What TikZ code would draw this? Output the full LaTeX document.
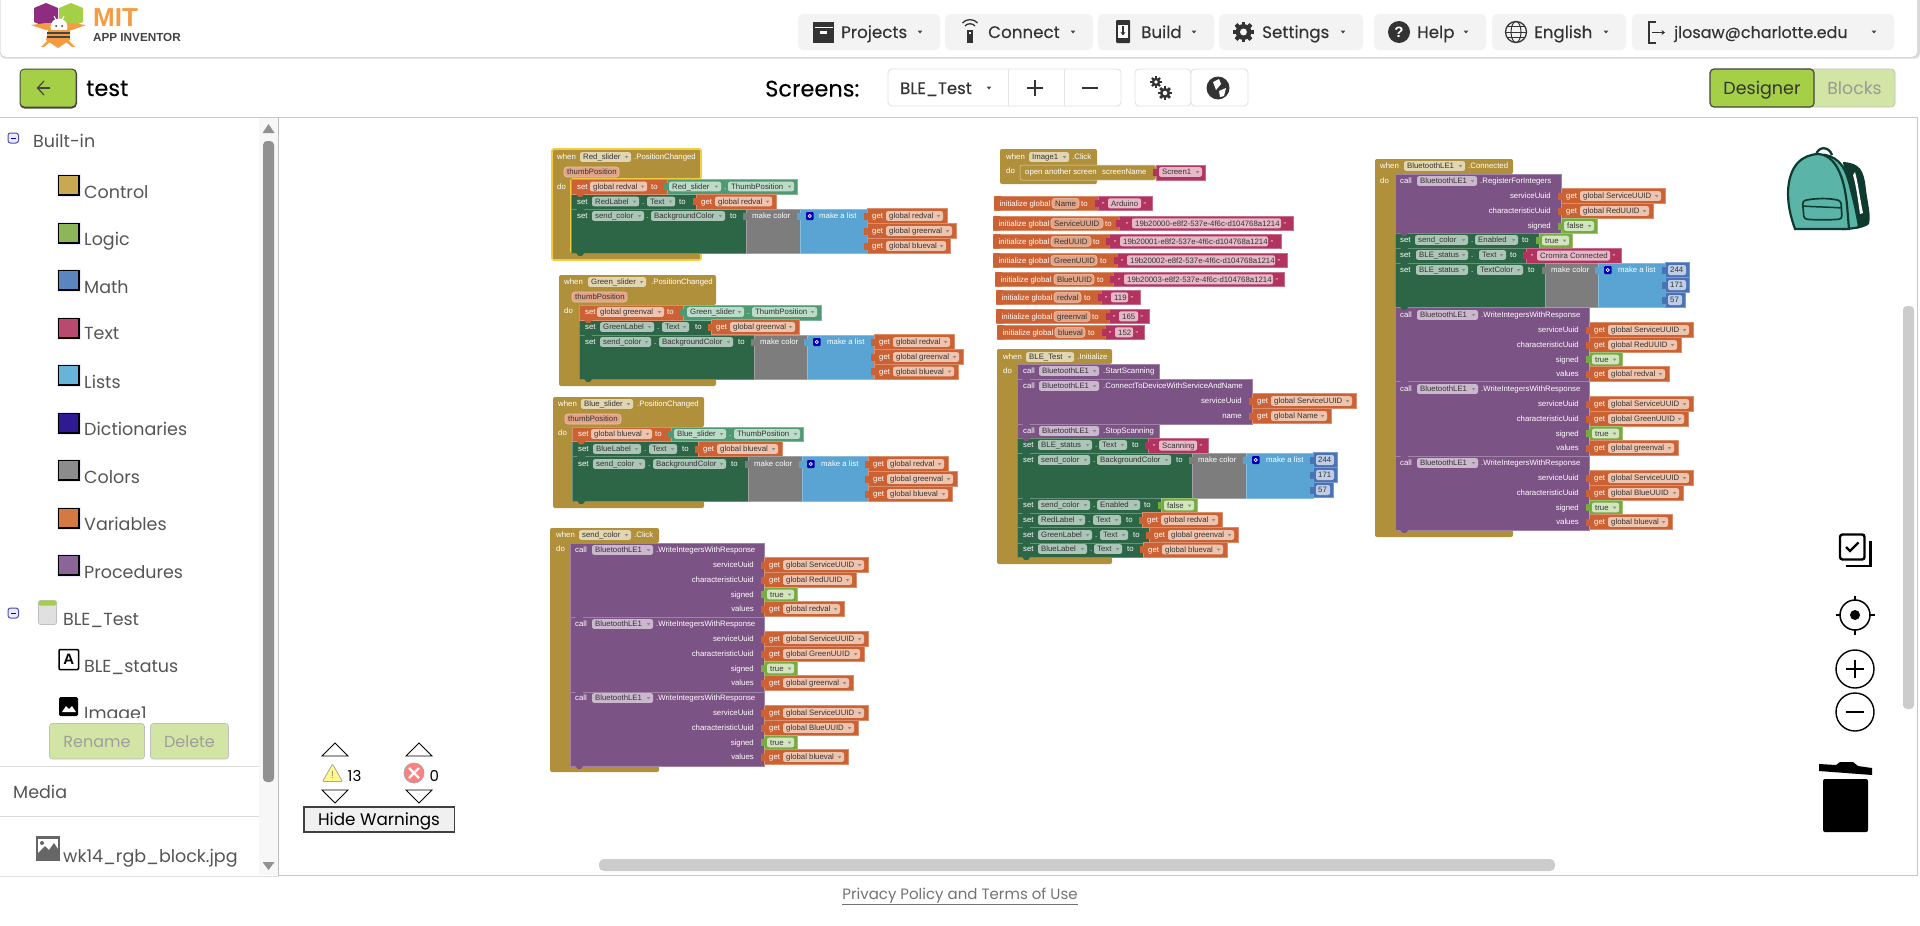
\documentclass[tikz,border=0pt]{standalone}
\usepackage{fontspec}
\usetikzlibrary{arrows.meta}
\setmainfont{Liberation Sans}
\newfontfamily\pop{Poppins}
\newfontfamily\popm[FakeBold=0.2]{Poppins}
\definecolor{cC}{HTML}{B0903A}
\definecolor{cP}{HTML}{7C5385}
\definecolor{cV}{HTML}{CC6233}
\definecolor{cS}{HTML}{2D6646}
\definecolor{cG}{HTML}{4F9A72}
\definecolor{cK}{HTML}{7D7D7D}
\definecolor{cL}{HTML}{59A4D2}
\definecolor{cT}{HTML}{B2335F}
\definecolor{cM}{HTML}{4A73B5}
\definecolor{cB}{HTML}{77AB41}
\definecolor{fO}{HTML}{EFC4AE}
\definecolor{fS}{HTML}{ABC6B7}
\definecolor{fG}{HTML}{BCDBC9}
\definecolor{fP}{HTML}{CBB8CF}
\definecolor{fH}{HTML}{E2D6B2}
\definecolor{fT}{HTML}{E6B9C9}
\definecolor{fB}{HTML}{D3E5BE}
\definecolor{fM}{HTML}{BFCDE6}
\definecolor{fV}{HTML}{E2A487}
\definecolor{ink}{HTML}{333333}
\definecolor{uitxt}{HTML}{555555}
\definecolor{btn}{HTML}{F3F3F3}
\definecolor{agreen}{HTML}{A5CF47}
\definecolor{pgreen}{HTML}{D3E5A5}
\definecolor{bpk}{HTML}{5BB4A8}
\definecolor{bpd}{HTML}{0E3A30}
\definecolor{lpur}{HTML}{8E2D80}
\definecolor{lorg}{HTML}{F59B42}
\definecolor{ldark}{HTML}{444444}
\definecolor{yel}{HTML}{F2CD3F}
\definecolor{HTMLc1}{HTML}{C8A951}
\definecolor{HTMLc2}{HTML}{8DB65A}
\definecolor{HTMLc3}{HTML}{5A85BF}
\definecolor{HTMLc4}{HTML}{B84A70}
\definecolor{HTMLc5}{HTML}{67B3DA}
\definecolor{HTMLc6}{HTML}{2F1A94}
\definecolor{HTMLc7}{HTML}{8C8C8C}
\definecolor{HTMLc8}{HTML}{D27A42}
\definecolor{HTMLc9}{HTML}{8A6596}
\tikzset{
 lb/.style={anchor=base west,inner sep=0,text=white,font=\fontsize{7.8}{8}\selectfont,yshift=-2.8pt},
 lbr/.style={lb,anchor=base east},
 lbd/.style={lb,text=ink},
 ui/.style={anchor=base west,inner sep=0,text=uitxt,font=\pop\fontsize{17.5}{18}\selectfont},
 tb/.style={anchor=base west,inner sep=0,text=ink,font=\popm\fontsize{16.7}{17}\selectfont},
 hb/.style={fill=btn,rounded corners=5},
 wb/.style={fill=white,draw=black!12,line width=.8,rounded corners=4},
}
\newcommand\Lb[3]{\node[lb] at (#1,#2) {#3};}
\newcommand\LbR[3]{\node[lbr] at (#1,#2) {#3};}
\newcommand\Bx[5]{\path[fill=#1,draw=#1!72!white,line width=.6] (#2,#3) rectangle (#4,#5);}
\newcommand\Nt[3]{\fill[#1] (#2-2.6,#3-3.5) rectangle (#2+.6,#3+3.5);}
\newcommand\Nb[3]{\fill[#1] (#2+5,#3-.4) -- (#2+7.5,#3+2.8) -- (#2+11,#3+2.8) -- (#2+13.5,#3-.4) -- cycle;}
\newcommand\Tn[2]{\fill[black!45] (#1-1.8,#2-1) -- (#1+1.8,#2-1) -- (#1,#2+1.4) -- cycle;}
\newcommand\Fd[5]{\fill[#1,rounded corners=2] (#2,#4-4.8) rectangle (#3,#4+4.8);\node[lbd] at (#2+3,#4) {#5};\Tn{#3-4.5}{#4}}
\newcommand\Get[4]{\Bx{cV}{#1}{#3-7.3}{#2}{#3+7.3}\Nt{cV}{#1}{#3}\Lb{#1+5}{#3}{get}\Fd{fO}{#1+19}{#2-4}{#3}{#4}}
\newcommand\Lg[4]{\Bx{cB}{#1}{#3-7.3}{#2}{#3+7.3}\Nt{cB}{#1}{#3}\Fd{fB}{#1+3}{#2-3}{#3}{#4}}
\newcommand\Nm[4]{\Bx{cM}{#1}{#3-7.3}{#2}{#3+7.3}\Nt{cM}{#1}{#3}\fill[fM,rounded corners=2] (#1+3,#3-5) rectangle (#2-3,#3+5);\node[lbd] at (#1+5,#3) {#4};}
\newcommand\Q[2]{\node[lb] at (#1,#2+1) {\fontsize{7}{7}\selectfont "};}
\newcommand\St[6]{\Bx{cT}{#1}{#3-7.3}{#2}{#3+7.3}\Nt{cT}{#1}{#3}\fill[fT,rounded corners=2] (#4,#3-5) rectangle (#5,#3+5);\node[lbd] at (#4+3,#3) {#6};\Q{#4-6}{#3}\Q{#5+2.5}{#3}}
\newcommand\Hat[7]{\fill[cC,rounded corners=2] (#1,#2) -- (#3,#2) -- (#3,#4) -- (#5,#4) -- (#5,#6) -- (#3,#6) -- (#3,#7) -- (#1,#7) -- cycle;}
\newcommand\Pill[4]{\fill[fV,draw=fO,line width=.6,rounded corners=3] (#1,#3-5) rectangle (#2,#3+5);\node[lbd] at (#1+3,#3) {#4};}
\newcommand\Mut[2]{\fill[blue!70!black,rounded corners=1] (#1,#2-4) rectangle (#1+7.5,#2+4);\draw[white,line width=.8] (#1+3.75,#2) circle (1.6);}
\newcommand\Mk[8]{\Bx{cK}{#1}{#4}{#2}{#5}\Nt{cK}{#1}{#6}\Lb{#1+6}{#6}{make color}\Bx{cL}{#2}{#4}{#3}{#5}\Nt{cL}{#2}{#6}\Mut{#7}{#6}\Lb{#8}{#6}{make a list}}
\newcommand\Wri[7]{\Lb{#1+5}{#3}{call}\Fd{fP}{#1+22}{#1+83}{#3}{BluetoothLE1}\Lb{#1+86}{#3}{.WriteIntegersWithResponse}%
 \LbR{#2-10}{#3+15}{serviceUuid}\LbR{#2-10}{#3+30}{characteristicUuid}\LbR{#2-10}{#3+44.5}{signed}\LbR{#2-10}{#3+59}{values}%
 \Get{#2}{#2+104}{#3+15}{global ServiceUUID}\Get{#2}{#5}{#3+30}{global #4}\Lg{#2}{#2+33}{#3+44.5}{true}\Get{#2}{#7}{#3+59}{global #6}}
\newcommand\Ini[9]{\Bx{cV}{#1}{#2}{#7}{#2+14.6}\fill[cV,rounded corners=2] (#1,#2) rectangle (#1+8,#2+14.6);\Lb{#1+5.5}{#2+7.3}{initialize global}\Pill{#3}{#4}{#2+7.3}{#5}\Lb{#6}{#2+7.3}{to}\def\xa{#7}\def\ya{#2+7.3}\def\xb{#8}\def\xc{#9}\IniC}
\newcommand\IniC[2]{\St{\xa}{\xb}{\ya}{\xc}{#1}{#2}}
\newcommand\Tri[2]{\fill[ldark] (#1-2.4,#2-1.5) -- (#1+2.4,#2-1.5) -- (#1,#2+1.5) -- cycle;}
\newcommand\Gear[4]{\begin{scope}[shift={(#1,#2)}]\foreach \a in {0,45,...,315}{\fill[#4,rotate=\a] (-.22*#3,-1.22*#3) rectangle (.22*#3,1.22*#3);}\fill[#4] (0,0) circle (#3*.92);\fill[white] (0,0) circle (#3*.4);\end{scope}}
\newcommand\Swatch[2]{\fill[blue!8] (57,#2) rectangle (81,#2+23);\path[fill=#1,draw=black,line width=1.3] (58.5,#2+1.5) rectangle (79,#2+21);}
\newcommand\Minus[2]{\path[fill=blue!8,draw=blue!40!gray,line width=1,rounded corners=2.5] (#1,#2) rectangle (#1+10.5,#2+10);\draw[blue!70!black,line width=1] (#1+3,#2+5) -- (#1+8,#2+5);}
\newcommand\Ui[3]{\node[ui] at (#1,#2) {#3};}
\newcommand\Hb[4]{\path[hb] (#1,14) rectangle (#2,50);\node[tb] at (#3,38) {#4};\Tri{#2-20}{32}}
\begin{document}
\begin{tikzpicture}[x=1pt,y=-1pt]
\useasboundingbox (0,0) rectangle (1920,926);
\fill[white] (0,0) rectangle (1920,926);
% ---- header card
\fill[black!15,rounded corners=5] (0,-8) rectangle (1920,58.5);
\path[fill=white,rounded corners=5] (.6,-8) rectangle (1917,56.8);
% logo
\fill[lpur] (34,8) -- (46,3) -- (58,8) -- (58,22) -- (46,27) -- (34,22) -- cycle;
\fill[agreen] (59,8) -- (71,3) -- (83,8) -- (83,22) -- (71,27) -- (59,22) -- cycle;
\fill[lorg] (31,25) -- (46,23) -- (71,23) -- (86,25) -- (72,30) -- (46,30) -- cycle;
\fill[white] (59,27) circle (8.5);
\fill[ink] (56,26) circle (1);\fill[ink] (62,26) circle (1);
\draw[white,line width=1] (56,20) -- (54,16);\draw[white,line width=1] (62,20) -- (64,16);
\fill[lorg] (48,30) -- (70,30) -- (70,40) -- (58,48) -- (46,40) -- cycle;
\fill[ldark] (47,32) rectangle (70,34);\fill[ldark] (47,36) rectangle (70,38);
\fill[lorg] (48,40) -- (41,47) -- (44,47) -- (50,42) -- cycle;\fill[lorg] (68,40) -- (75,47) -- (72,47) -- (66,42) -- cycle;
\node[anchor=base west,inner sep=0,text=lorg,font=\bfseries\fontsize{26}{26}\selectfont] at (93,27) {MIT};
\node[anchor=base west,inner sep=0,text=ldark,font=\bfseries\fontsize{11.7}{12}\selectfont] at (93,41) {APP INVENTOR};
% header buttons
\Hb{798}{940}{841}{Projects}
\Hb{945}{1093}{988}{Connect}
\Hb{1098}{1214}{1141}{Build}
\Hb{1219}{1363}{1262}{Settings}
\Hb{1374}{1486}{1417}{Help}
\Hb{1492}{1626}{1534}{English}
\Hb{1632}{1894}{1674}{\fontsize{16}{17}\selectfont jlosaw@charlotte.edu}
% projects icon
\fill[ink] (813,22) rectangle (834,43);\fill[white] (814.5,27) rectangle (832.5,28.2);\fill[white] (820,31) rectangle (827,33.5);
% connect icon
\fill[ink] (967,30) rectangle (973,43);\fill[white] (969,32) rectangle (971,34);
\draw[ink,line width=1.3] (965,26) .. controls (967,23) and (973,23) .. (975,26);
\draw[ink,line width=1.3] (962.5,23) .. controls (966,18.5) and (974,18.5) .. (977.5,23);
% build icon
\fill[ink,rounded corners=1] (1116,20) rectangle (1130,43);\fill[white] (1118,25) rectangle (1128,38);
\draw[ink,line width=1.4,-{Stealth[length=3.5pt,width=5pt]}] (1123,26) -- (1123,35.5);
% settings
\Gear{1243.5}{32}{8.6}{ink}
% help
\fill[ink] (1399,32) circle (11);\node[anchor=center,inner sep=0,text=white,font=\bfseries\fontsize{15}{15}\selectfont] at (1399,32) {?};
% english
\draw[ink,line width=1.3] (1516,32) circle (10.5);\draw[ink,line width=1] (1516,32) ellipse (5 and 10.5);\draw[ink,line width=1] (1505.5,32) -- (1526.5,32);\draw[ink,line width=1] (1507,26.5) -- (1525,26.5);\draw[ink,line width=1] (1507,37.5) -- (1525,37.5);
% logout
\draw[ink,line width=1.2] (1656,22) -- (1649,22) -- (1649,43) -- (1656,43);
\draw[ink,line width=1.2,-{Stealth[length=3.5pt,width=5pt]}] (1652,32.5) -- (1665,32.5);
% row 2
\fill[ldark,rounded corners=5] (19.5,68.5) rectangle (77,108.5);
\fill[agreen,rounded corners=4] (20.5,69.5) rectangle (75.5,106.5);
\draw[ldark,line width=1.2] (50,88) -- (38,88);\draw[ldark,line width=1.2] (44,81) -- (37.5,88) -- (44,95);
\node[anchor=base west,inner sep=0,text=black,font=\popm\fontsize{22.5}{23}\selectfont] at (86,96) {test};
\node[anchor=base west,inner sep=0,text=black,font=\popm\fontsize{22.5}{23}\selectfont] at (765,96.5) {Screens:};
\path[wb] (888,69) rectangle (1121,106);
\draw[black!10,line width=.8] (1008,69) -- (1008,106);\draw[black!10,line width=.8] (1064,69) -- (1064,106);
\node[anchor=base west,inner sep=0,text=ink,font=\popm\fontsize{16.5}{17}\selectfont] at (900,94) {BLE\_Test};
\Tri{989}{88}
\draw[ink,line width=1.3] (1027,88) -- (1043,88);\draw[ink,line width=1.3] (1035,80) -- (1035,96);
\draw[ink,line width=1.3] (1082,88) -- (1098,88);
\path[wb] (1135,69) rectangle (1191,106);\path[wb] (1191,69) rectangle (1248,106);
\Gear{1156}{82}{4.6}{ink}\Gear{1165}{93}{5.6}{ink}
\fill[ink] (1218,88) circle (11.5);
\fill[white] (1213,82) -- (1219,79) -- (1221,84) -- (1216,90) -- cycle;\fill[white] (1219,91) -- (1226,88) -- (1224,96) -- (1220,97) -- cycle;
% designer / blocks
\fill[pgreen,draw=black!25,line width=.8,rounded corners=4] (1800,69) rectangle (1895,107);
\fill[agreen,draw=ldark,line width=1.2,rounded corners=4] (1710,69) rectangle (1814,107);
\node[anchor=base,inner sep=0,text=ink,font=\pop\fontsize{17.5}{18}\selectfont] at (1762,94.5) {Designer};
\node[anchor=base,inner sep=0,text=black!40,font=\pop\fontsize{17.3}{18}\selectfont] at (1854.5,94.5) {Blocks};
% ---- panel frames
\draw[black!22,line width=1] (0,117) -- (1917.5,117) -- (1917.5,875.5) -- (279,875.5);
\draw[black!25,line width=1.2] (278.5,117) -- (278.5,875.5);
\draw[black!12,line width=1] (0,876.5) -- (279,876.5);
\fill[black!3] (259,118) rectangle (278,875);
\fill[black!43,rounded corners=4] (263,141) rectangle (274,782);
\fill[black!43] (262.5,133) -- (274.5,133) -- (268.5,124) -- cycle;
\fill[black!43] (262.5,862) -- (274.5,862) -- (268.5,870) -- cycle;
% tree
\Minus{8}{133}\Ui{33}{147}{Built-in}
\Swatch{HTMLc1}{174}\Ui{84}{198}{Control}
\Swatch{HTMLc2}{222}\Ui{84}{245}{Logic}
\Swatch{HTMLc3}{269}\Ui{84}{293}{Math}
\Swatch{HTMLc4}{317}\Ui{84}{339}{Text}
\Swatch{HTMLc5}{364}\Ui{84}{388}{Lists}
\Swatch{HTMLc6}{412}\Ui{84}{435}{Dictionaries}
\Swatch{HTMLc7}{459}\Ui{84}{483}{Colors}
\Swatch{HTMLc8}{507}\Ui{84}{530}{Variables}
\Swatch{HTMLc9}{554}\Ui{84}{578}{Procedures}
\Minus{8}{608}
\fill[black!12,draw=black!25,line width=.6,rounded corners=2] (38.5,600.5) rectangle (56.5,624.5);
\fill[agreen,rounded corners=2] (38.5,600.5) rectangle (56.5,605.5);
\Ui{63}{625}{BLE\_Test}
\draw[black,line width=1.5,rounded corners=1] (59,649.5) rectangle (78.5,669.5);
\node[anchor=center,inner sep=0,font=\bfseries\fontsize{15}{15}\selectfont] at (68.7,659.5) {A};
\Ui{84}{672}{BLE\_status}
\fill[black,rounded corners=1.5] (59,697) rectangle (78,716);
\fill[white] (62,712) -- (66,706) -- (69,709) -- (72,706) -- (76,712) -- cycle;
\begin{scope}\clip (80,700) rectangle (200,717);\Ui{84}{719}{Image1}\end{scope}
\fill[pgreen,draw=black!25,line width=.7,rounded corners=3] (49.5,723.5) rectangle (144.5,759);
\fill[pgreen,draw=black!25,line width=.7,rounded corners=3] (150.5,723.5) rectangle (228.5,759);
\node[anchor=base,inner sep=0,text=black!38,font=\pop\fontsize{16}{16}\selectfont] at (97,747) {Rename};
\node[anchor=base,inner sep=0,text=black!38,font=\pop\fontsize{16}{16}\selectfont] at (189.5,747) {Delete};
\draw[black!14,line width=.8] (0,766) -- (259,766);
\Ui{13}{798}{Media}
\draw[black!14,line width=.8] (0,816) -- (259,816);
\fill[black!60] (36,836) rectangle (60,861);
\fill[white] (38,839) rectangle (58,853);\fill[black!60] (38,853) -- (45,846) -- (49,850) -- (54,843) -- (58,849) -- (58,854) -- (38,854) -- cycle;\fill[black!60] (42,843) circle (2);
\Ui{63}{862}{wk14\_rgb\_block.jpg}
% warnings
\foreach \xx/\nm in {335/a,419/b}{
 \draw[black,line width=.9,fill=white] (\xx-13,756) -- (\xx,743) -- (\xx+13,756) -- cycle;
 \draw[black,line width=.9,fill=white] (\xx-13,790) -- (\xx,803) -- (\xx+13,790) -- cycle;
}
\fill[yellow!45,draw=black!35,line width=.8,rounded corners=1] (322.5,781.5) -- (332.5,764) -- (342.5,781.5) -- cycle;
\node[anchor=center,inner sep=0,text=black!50,font=\fontsize{10}{10}\selectfont] at (332.5,775) {!};
\node[anchor=base west,inner sep=0,text=black,font=\pop\fontsize{15}{15}\selectfont] at (347.5,781) {13};
\fill[red!50!white,draw=black!35,line width=.8] (414,773) circle (10);
\draw[white,line width=2.4] (409,768) -- (419,778);\draw[white,line width=2.4] (419,768) -- (409,778);
\node[anchor=base west,inner sep=0,text=black,font=\pop\fontsize{15}{15}\selectfont] at (429.5,781) {0};
\fill[black!6,draw=black!75,line width=1.3] (304,807) rectangle (454.5,832);
\node[anchor=base,inner sep=0,text=black,font=\pop\fontsize{16.8}{17}\selectfont] at (379,825.5) {Hide Warnings};
% scrollbars
\fill[black!20,rounded corners=5] (599,859) rectangle (1555,871);
\fill[black!20,rounded corners=4] (1903,306) rectangle (1914,709);
% footer
\node[anchor=base,inner sep=0,text=black!55,font=\pop\fontsize{15}{15}\selectfont] at (960,899) {\underline{Privacy Policy and Terms of Use}};
% ---- backpack
\fill[bpd] (1843,162) .. controls (1860,163) and (1864,170) .. (1866,190) .. controls (1868,205) and (1871,215) .. (1869,224) .. controls (1866,227) and (1860,228) .. (1855,229) -- (1848,200) -- cycle;
\fill[white] (1855,172) .. controls (1858,182) and (1860,200) .. (1863,213) -- (1860,214) .. controls (1858,200) and (1856,185) .. (1853,175) -- cycle;
\draw[bpd,line width=2.3] (1816,155) .. controls (1818,146) and (1829,146) .. (1832,155);
\path[fill=bpk,draw=bpd,line width=2.2] (1825,155) .. controls (1840,158) and (1846,168) .. (1851,190) .. controls (1855,205) and (1858,220) .. (1859,227) .. controls (1855,228) and (1850,229) .. (1843,229) -- cycle;
\path[fill=bpk,draw=bpd,line width=2.2] (1788,192) .. controls (1789,165) and (1802,155) .. (1818,154) .. controls (1835,155) and (1844,175) .. (1847,205) -- (1849,229) -- (1795,229) .. controls (1790,215) and (1788,205) .. (1788,192) -- cycle;
\draw[bpd,line width=1.7,rounded corners=3,fill=bpk] (1802.5,201) .. controls (1815,198) and (1830,198) .. (1841,201) -- (1842,219) .. controls (1830,220) and (1815,220) .. (1804,219) -- cycle;
\draw[bpd,line width=1.5] (1803,206) .. controls (1815,207) and (1830,207) .. (1841.5,208);
% ---- right tools
\draw[black,line width=2.4,rounded corners=2.5] (1840,534.5) rectangle (1864.5,559.5);
\draw[black,line width=2.2] (1846,566) -- (1870.5,566) -- (1870.5,541);
\draw[black,line width=2.2] (1846,547) -- (1850,551) -- (1858.5,542.5);
\draw[black,line width=1.5] (1855,615) circle (15);\fill[black] (1855,615) circle (5);
\draw[black,line width=1.5] (1855,596) -- (1855,601);\draw[black,line width=1.5] (1855,629) -- (1855,635);\draw[black,line width=1.5] (1835.5,615) -- (1841,615);\draw[black,line width=1.5] (1869,615) -- (1875,615);
\draw[black,line width=1.4] (1855,669) circle (19);\draw[black,line width=1.6] (1846,669) -- (1864,669);\draw[black,line width=1.6] (1855,660) -- (1855,678);
\draw[black,line width=1.4] (1855,712) circle (19);\draw[black,line width=1.6] (1846,712) -- (1864,712);
\fill[black,rounded corners=2] (1823,779) -- (1868,779) -- (1868,832) -- (1823,832) -- cycle;
\fill[black] (1819,764) -- (1836,765) -- (1840,762) -- (1853,762) -- (1858,766) -- (1872,768) -- (1872,775) -- (1819,771) -- cycle;
% ---- Red slider
\path[fill=cC,draw=yel,line width=1.8,rounded corners=2] (552,149) -- (701,149) -- (701,179) -- (571,179) -- (571,253) -- (701,253) -- (701,260) -- (552,260) -- cycle;
\Lb{557}{157}{when}\Fd{fH}{580}{631}{157}{Red\_slider}\Lb{634}{157}{.PositionChanged}
\Pill{564}{619}{172}{thumbPosition}\Lb{557}{186.5}{do}
\Bx{cS}{571}{194}{696}{209}\Bx{cS}{571}{209}{746}{253}
\Bx{cV}{571}{179}{667}{194}\Bx{cG}{667}{179}{797}{194}
\Nb{cV}{571}{194}\Nb{cS}{571}{209}\Nb{cS}{571}{253}
\Lb{577}{186.5}{set}\Fd{fO}{590}{647}{186.5}{global redval}\Lb{651}{186.5}{to}
\Nt{cG}{667}{186.5}\Fd{fG}{669}{721}{186.5}{Red\_slider}\Lb{724}{186.5}{.}\Fd{fG}{728}{794}{186.5}{ThumbPosition}
\Lb{577}{201.5}{set}\Fd{fS}{592}{639}{201.5}{RedLabel}\Lb{642}{201.5}{.}\Fd{fS}{647}{675}{201.5}{Text}\Lb{679}{201.5}{to}\Get{696}{776}{201.5}{global redval}
\Lb{577}{216}{set}\Fd{fS}{592}{644}{216}{send\_color}\Lb{646}{216}{.}\Fd{fS}{651}{725}{216}{BackgroundColor}\Lb{730}{216}{to}
\Mk{746}{800}{867}{209}{253}{216}{806}{819}
\Get{867}{947}{216}{global redval}\Get{867}{956}{231}{global greenval}\Get{867}{950}{246}{global blueval}
% ---- Green slider
\Hat{559}{275}{716}{305}{579}{379}{386}
\Lb{564}{282}{when}\Fd{fH}{588}{646}{282}{Green\_slider}\Lb{651}{282}{.PositionChanged}
\Pill{572}{627}{297}{thumbPosition}\Lb{564}{311}{do}
\Bx{cS}{579}{320}{711}{335}\Bx{cS}{579}{335}{754}{379}
\Bx{cV}{579}{305}{683}{320}\Bx{cG}{683}{305}{821}{320}
\Nb{cV}{579}{320}\Nb{cS}{579}{335}\Nb{cS}{579}{379}
\Lb{585}{312}{set}\Fd{fO}{597}{664}{312}{global greenval}\Lb{667}{312}{to}
\Nt{cG}{683}{312}\Fd{fG}{687}{744}{312}{Green\_slider}\Lb{747}{312}{.}\Fd{fG}{752}{817}{312}{ThumbPosition}
\Lb{585}{327}{set}\Fd{fS}{600}{654}{327}{GreenLabel}\Lb{657}{327}{.}\Fd{fS}{662}{689}{327}{Text}\Lb{695}{327}{to}\Get{711}{799}{327}{global greenval}
\Lb{585}{342}{set}\Fd{fS}{600}{651}{342}{send\_color}\Lb{654}{342}{.}\Fd{fS}{659}{733}{342}{BackgroundColor}\Lb{738}{342}{to}
\Mk{754}{807}{874}{335}{379}{342}{813}{827}
\Get{874}{954}{342}{global redval}\Get{874}{963}{357}{global greenval}\Get{874}{958}{371.5}{global blueval}
% ---- Blue slider
\Hat{553}{397}{704}{427}{572}{501}{508}
\Lb{558}{404}{when}\Fd{fH}{581}{633}{404}{Blue\_slider}\Lb{637}{404}{.PositionChanged}
\Pill{565}{621}{419}{thumbPosition}\Lb{558}{433}{do}
\Bx{cS}{572}{441.5}{698}{456.5}\Bx{cS}{572}{456.5}{748}{501}
\Bx{cV}{572}{427}{671}{441.5}\Bx{cG}{671}{427}{803}{441.5}
\Nb{cV}{572}{441.5}\Nb{cS}{572}{456.5}\Nb{cS}{572}{501}
\Lb{578}{434}{set}\Fd{fO}{591}{652}{434}{global blueval}\Lb{655}{434}{to}
\Nt{cG}{671}{434}\Fd{fG}{674}{726}{434}{Blue\_slider}\Lb{729}{434}{.}\Fd{fG}{734}{800}{434}{ThumbPosition}
\Lb{578}{449}{set}\Fd{fS}{593}{641}{449}{BlueLabel}\Lb{644}{449}{.}\Fd{fS}{649}{677}{449}{Text}\Lb{682}{449}{to}\Get{698}{782}{449}{global blueval}
\Lb{578}{464}{set}\Fd{fS}{593}{645}{464}{send\_color}\Lb{648}{464}{.}\Fd{fS}{653}{726}{464}{BackgroundColor}\Lb{731}{464}{to}
\Mk{748}{802}{868}{456.5}{501}{464}{807}{821}
\Get{868}{948}{464}{global redval}\Get{868}{957}{479}{global greenval}\Get{868}{952}{494}{global blueval}
% ---- send_color click
\Hat{550}{528}{659}{543}{570}{766}{772}
\Lb{556}{535}{when}\Fd{fH}{579}{631}{535}{send\_color}\Lb{634}{535}{.Click}\Lb{556}{549}{do}
\Bx{cP}{570}{543}{764}{617}\Bx{cP}{570}{617}{764}{692}\Bx{cP}{570}{692}{764}{766}
\Nb{cP}{570}{617}\Nb{cP}{570}{692}\Nb{cP}{570}{766}
\Wri{570}{764}{550}{RedUUID}{856}{redval}{844}
\Wri{570}{764}{624}{GreenUUID}{864}{greenval}{853}
\Wri{570}{764}{698}{BlueUUID}{858}{blueval}{848}
% ---- Image1 click
\fill[cC,rounded corners=2] (1000,149) rectangle (1097,184);
\draw[fH,line width=.5,rounded corners=2,fill=cC] (1020,165) rectangle (1156,180);
\Lb{1006}{157}{when}\Fd{fH}{1029}{1069}{157}{Image1}\Lb{1072}{157}{.Click}\Lb{1006}{171}{do}
\Lb{1025}{172}{open another screen}\Lb{1102}{172}{screenName}
\Bx{cT}{1156}{165}{1205}{180}\Nt{cT}{1156}{172}\Fd{fT}{1159}{1202}{172}{Screen1}
% ---- globals
\Ini{994}{196}{1052}{1079}{Name}{1081}{1098}{1152}{1108}{1141}{Arduino}
\Ini{993}{216}{1051}{1103}{ServiceUUID}{1105}{1119}{1293}{1132}{1281}{19b20000-e8f2-537e-4f6c-d104768a1214}
\Ini{993}{234}{1051}{1091}{RedUUID}{1093}{1109}{1281}{1120}{1268}{19b20001-e8f2-537e-4f6c-d104768a1214}
\Ini{993}{253}{1051}{1097}{GreenUUID}{1100}{1117}{1287}{1127}{1275}{19b20002-e8f2-537e-4f6c-d104768a1214}
\Ini{995}{272}{1054}{1094}{BlueUUID}{1097}{1113}{1284}{1124}{1273}{19b20003-e8f2-537e-4f6c-d104768a1214}
\Ini{996}{290}{1054}{1081}{redval}{1084}{1101}{1140}{1111}{1128}{119}
\Ini{996}{309}{1054}{1090}{greenval}{1092}{1109}{1149}{1119}{1138}{165}
\Ini{997}{325}{1055}{1085}{blueval}{1088}{1105}{1144}{1115}{1133}{152}
% ---- BLE_Test initialize
\Hat{997}{349}{1112}{364}{1017}{557}{564}
\Lb{1003}{357}{when}\Fd{fH}{1026}{1074}{357}{BLE\_Test}\Lb{1077}{357}{.Initialize}\Lb{1003}{371}{do}
\Bx{cP}{1017}{364}{1159}{379}\Bx{cP}{1017}{379}{1252}{424}\Bx{cP}{1017}{424}{1159}{438}
\Bx{cS}{1017}{438}{1148}{453}\Bx{cS}{1017}{453}{1192}{498}\Bx{cS}{1017}{498}{1161}{513}\Bx{cS}{1017}{513}{1142}{527}\Bx{cS}{1017}{527}{1149}{543}\Bx{cS}{1017}{543}{1143}{557}
\Nb{cP}{1017}{379}\Nb{cP}{1017}{424}\Nb{cP}{1017}{438}\Nb{cS}{1017}{453}\Nb{cS}{1017}{498}\Nb{cS}{1017}{513}\Nb{cS}{1017}{527}\Nb{cS}{1017}{543}\Nb{cS}{1017}{557}
\Lb{1023}{371}{call}\Fd{fP}{1039}{1099}{371}{BluetoothLE1}\Lb{1103}{371}{.StartScanning}
\Lb{1023}{386}{call}\Fd{fP}{1039}{1099}{386}{BluetoothLE1}\Lb{1103}{386}{.ConnectToDeviceWithServiceAndName}
\LbR{1242}{401}{serviceUuid}\LbR{1242}{416}{name}
\Get{1252}{1356}{401}{global ServiceUUID}\Get{1252}{1331}{416}{global Name}
\Lb{1023}{431}{call}\Fd{fP}{1039}{1099}{431}{BluetoothLE1}\Lb{1103}{431}{.StopScanning}
\Lb{1023}{445}{set}\Fd{fS}{1038}{1092}{445}{BLE\_status}\Lb{1095}{445}{.}\Fd{fS}{1099}{1127}{445}{Text}\Lb{1132}{445}{to}
\St{1148}{1208}{445.5}{1159}{1197}{Scanning}
\Lb{1023}{460}{set}\Fd{fS}{1038}{1090}{460}{send\_color}\Lb{1093}{460}{.}\Fd{fS}{1097}{1171}{460}{BackgroundColor}\Lb{1176}{460}{to}
\Mk{1192}{1246}{1313}{453}{498}{460}{1252}{1266}
\Nm{1313}{1337}{460}{244}\Nm{1313}{1337}{475}{171}\Nm{1313}{1333}{490}{57}
\Lb{1023}{505}{set}\Fd{fS}{1038}{1090}{505}{send\_color}\Lb{1093}{505}{.}\Fd{fS}{1097}{1140}{505}{Enabled}\Lb{1144}{505}{to}\Lg{1161}{1197}{505.5}{false}
\Lb{1023}{520}{set}\Fd{fS}{1038}{1085}{520}{RedLabel}\Lb{1088}{520}{.}\Fd{fS}{1093}{1121}{520}{Text}\Lb{1126}{520}{to}\Get{1142}{1222}{520}{global redval}
\Lb{1023}{535}{set}\Fd{fS}{1038}{1092}{535}{GreenLabel}\Lb{1095}{535}{.}\Fd{fS}{1100}{1128}{535}{Text}\Lb{1133}{535}{to}\Get{1149}{1238}{535}{global greenval}
\Lb{1023}{549}{set}\Fd{fS}{1038}{1087}{549}{BlueLabel}\Lb{1090}{549}{.}\Fd{fS}{1094}{1122}{549}{Text}\Lb{1127}{549}{to}\Get{1143}{1227}{549.5}{global blueval}
% ---- BluetoothLE1 connected
\Hat{1375}{159}{1513}{174}{1395}{530}{537}
\Lb{1380}{166}{when}\Fd{fH}{1404}{1465}{166}{BluetoothLE1}\Lb{1468}{166}{.Connected}\Lb{1380}{181}{do}
\Bx{cP}{1395}{174}{1561}{233}\Bx{cS}{1395}{233}{1539}{248}\Bx{cS}{1395}{248}{1526}{263}\Bx{cS}{1395}{263}{1545}{307}
\Bx{cP}{1395}{307}{1589}{381}\Bx{cP}{1395}{381}{1589}{456}\Bx{cP}{1395}{456}{1589}{530}
\Nb{cP}{1395}{233}\Nb{cS}{1395}{248}\Nb{cS}{1395}{263}\Nb{cS}{1395}{307}\Nb{cP}{1395}{381}\Nb{cP}{1395}{456}\Nb{cP}{1395}{530}
\Lb{1400}{181}{call}\Fd{fP}{1417}{1477}{181}{BluetoothLE1}\Lb{1480}{181}{.RegisterForIntegers}
\LbR{1551}{196}{serviceUuid}\LbR{1551}{211}{characteristicUuid}\LbR{1551}{226}{signed}
\Get{1561}{1665}{196}{global ServiceUUID}\Get{1561}{1653}{211}{global RedUUID}\Lg{1561}{1597}{226}{false}
\Lb{1400}{240}{set}\Fd{fS}{1415}{1468}{240}{send\_color}\Lb{1471}{240}{.}\Fd{fS}{1475}{1518}{240}{Enabled}\Lb{1522}{240}{to}\Lg{1539}{1572}{240.5}{true}
\Lb{1400}{255}{set}\Fd{fS}{1416}{1468}{255}{BLE\_status}\Lb{1471}{255}{.}\Fd{fS}{1479}{1506}{255}{Text}\Lb{1510}{255}{to}
\St{1526}{1621}{255.5}{1537}{1610}{Cromira Connected}
\Lb{1400}{270}{set}\Fd{fS}{1416}{1468}{270}{BLE\_status}\Lb{1471}{270}{.}\Fd{fS}{1477}{1523}{270}{TextColor}\Lb{1528}{270}{to}
\Mk{1545}{1598}{1665}{263}{307}{270}{1604}{1618}
\Nm{1665}{1689}{270}{244}\Nm{1665}{1689}{285}{171}\Nm{1665}{1685}{300}{57}
\Wri{1395}{1589}{315}{RedUUID}{1681}{redval}{1669}
\Wri{1395}{1589}{389}{GreenUUID}{1688}{greenval}{1678}
\Wri{1395}{1589}{463}{BlueUUID}{1683}{blueval}{1672}
\end{tikzpicture}
\end{document}
